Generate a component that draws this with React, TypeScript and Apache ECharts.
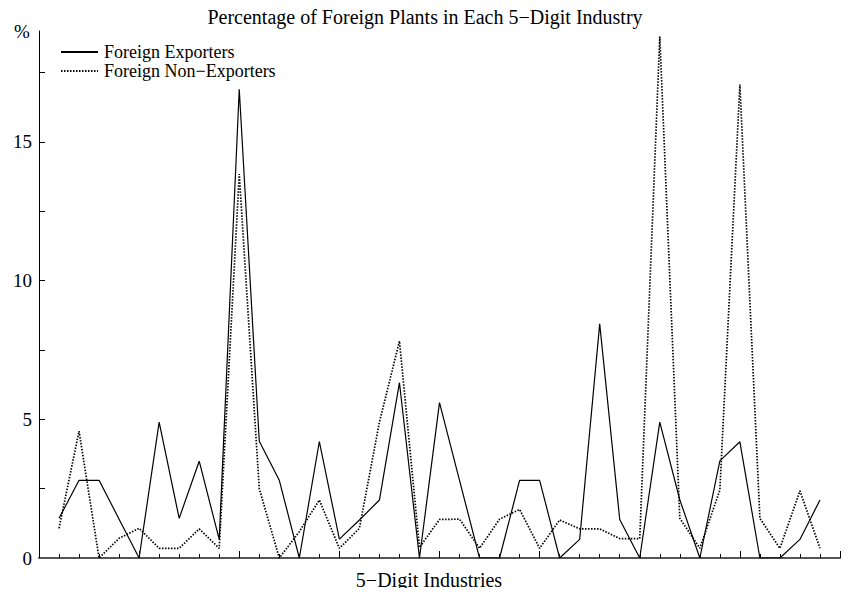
import React, { useEffect, useRef } from "react";
import * as echarts from "echarts";

const TITLE = "Percentage of Foreign Plants in Each 5\u2212Digit Industry";
const X_NAME = "5\u2212Digit Industries";
const Y_UNIT = "%";
const SERIES_NAMES = ["Foreign Exporters", "Foreign Non\u2212Exporters"];

const exporters = [
  1.43, 2.8, 2.8, 1.4, 0, 4.9, 1.43, 3.49, 0.67, 16.9,
  4.21, 2.8, 0, 4.2, 0.68, 1.37, 2.09, 6.32, 0, 5.6,
  2.8, 0, 0, 2.8, 2.8, 0, 0.67, 8.44, 1.39, 0,
  4.9, 2.1, 0, 3.5, 4.19, 0, 0, 0.67, 2.09,
];

const nonExporters = [
  1.07, 4.57, 0, 0.71, 1.07, 0.35, 0.35, 1.05, 0.35, 13.84,
  2.5, 0, 0.95, 2.09, 0.35, 1.07, 4.9, 7.82, 0.38, 1.39,
  1.4, 0.35, 1.4, 1.75, 0.35, 1.37, 1.05, 1.05, 0.7, 0.7,
  18.8, 1.43, 0.35, 2.45, 17.07, 1.43, 0.35, 2.42, 0.35,
];

const yTickValues = [2.5, 5, 7.5, 10, 12.5, 15, 17.5];
const yLabelValues = [0, 5, 10, 15];

const FONT = "'Liberation Serif', 'DejaVu Serif', serif";

export default function App() {
  const ref = useRef<HTMLDivElement>(null);

  useEffect(() => {
    if (!ref.current) return;
    const chart = echarts.init(ref.current, null, { renderer: "svg" });
    const toPairs = (arr: number[]) => arr.map((v, i) => [i + 1, v]);
    chart.setOption({
      animation: false,
      backgroundColor: "#ffffff",
      textStyle: { fontFamily: FONT, color: "#000" },
      grid: { left: 39, right: 10, top: 31, bottom: 38, containLabel: false },
      legend: {
        show: true,
        orient: "vertical",
        left: 60,
        top: 43,
        padding: 0,
        itemWidth: 37,
        itemHeight: 10,
        itemGap: 1,
        itemStyle: { opacity: 0 },
        textStyle: { fontFamily: FONT, fontSize: 18, color: "#000", padding: [0, 0, 0, 1] },
        data: SERIES_NAMES,
      },
      graphic: [
        {
          type: "text",
          left: "center",
          top: 7,
          style: { text: TITLE, fontFamily: FONT, fontSize: 20, fill: "#000" },
        },
        {
          type: "text",
          x: 22,
          y: 31,
          style: {
            text: Y_UNIT,
            fontFamily: FONT,
            fontSize: 19,
            fill: "#000",
            align: "center",
            verticalAlign: "middle",
          },
        },
        {
          type: "text",
          x: 429,
          y: 580,
          style: {
            text: X_NAME,
            fontFamily: FONT,
            fontSize: 20,
            fill: "#000",
            align: "center",
            verticalAlign: "middle",
          },
        },
      ],
      xAxis: {
        type: "value",
        min: 0,
        max: 40,
        interval: 5,
        axisLine: { show: true, lineStyle: { color: "#555", width: 2 } },
        axisTick: { show: true, inside: true, length: 7, lineStyle: { color: "#000", width: 1 } },
        minorTick: { show: true, splitNumber: 5, length: 4, lineStyle: { color: "#000", width: 1 } },
        axisLabel: { show: false },
        splitLine: { show: false },
        minorSplitLine: { show: false },
      },
      yAxis: {
        type: "value",
        min: 0,
        max: 19,
        axisLine: { show: true, onZero: false, lineStyle: { color: "#000", width: 1 } },
        axisTick: {
          show: true,
          inside: true,
          length: 6,
          customValues: yTickValues,
          lineStyle: { color: "#000", width: 1 },
        },
        axisLabel: {
          show: true,
          customValues: yLabelValues,
          margin: 7,
          fontFamily: FONT,
          fontSize: 19,
          color: "#000",
        },
        splitLine: { show: false },
      },
      series: [
        {
          name: SERIES_NAMES[0],
          type: "line",
          data: toPairs(exporters),
          symbol: "none",
          showSymbol: false,
          lineStyle: { color: "#000", width: 1.2, type: "solid" },
          itemStyle: { color: "#000" },
        },
        {
          name: SERIES_NAMES[1],
          type: "line",
          data: toPairs(nonExporters),
          symbol: "none",
          showSymbol: false,
          lineStyle: { color: "#000", width: 1.7, type: [1.5, 1.5] },
          itemStyle: { color: "#000" },
        },
      ],
    });
    return () => chart.dispose();
  }, []);

  return <div ref={ref} style={{ width: 850, height: 596, margin: -8 }} />;
}
